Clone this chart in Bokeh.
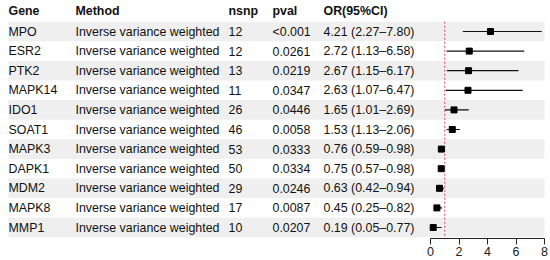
from bokeh.plotting import figure
from bokeh.models import Range1d, LinearAxis, FixedTicker, ColumnDataSource
from bokeh.core.properties import value
from bokeh.embed import file_html
from bokeh.resources import INLINE

genes = ["MPO", "ESR2", "PTK2", "MAPK14", "IDO1", "SOAT1", "MAPK3", "DAPK1", "MDM2", "MAPK8", "MMP1"]
methods = ["Inverse variance weighted"] * 11
nsnp = [12, 12, 13, 11, 26, 46, 53, 50, 29, 17, 10]
pvals = ["<0.001", "0.0261", "0.0219", "0.0347", "0.0446", "0.0058", "0.0333", "0.0334", "0.0246", "0.0087", "0.0207"]
or_val = [4.21, 2.72, 2.67, 2.63, 1.65, 1.53, 0.76, 0.75, 0.63, 0.45, 0.19]
ci_low = [2.27, 1.13, 1.15, 1.07, 1.01, 1.13, 0.59, 0.57, 0.42, 0.25, 0.05]
ci_high = [7.80, 6.58, 6.17, 6.47, 2.69, 2.06, 0.98, 0.98, 0.94, 0.82, 0.77]
headers = ["Gene", "Method", "nsnp", "pval", "OR(95%CI)"]
x_ticks = [0, 2, 4, 6, 8]
ref_line = 1

W, H = 550, 260
PX0 = 430.0   # frame px of OR = 0
PXU = 14.25   # px per OR unit
ROW0 = 31.0   # frame px of first row
ROWH = 19.6   # px per row
AXIS_Y = 238.0


def px(x):
    return (x - PX0) / PXU


def py(y):
    return 1 + (y - ROW0) / ROWH


rows = list(range(1, len(genes) + 1))
or_text = [f"{o:.2f} ({l:.2f}\u2013{h:.2f})" for o, l, h in zip(or_val, ci_low, ci_high)]

p = figure(width=W, height=H, output_backend="svg", toolbar_location=None,
           x_axis_type=None, y_axis_type=None,
           x_range=Range1d(px(0), px(W)), y_range=Range1d(py(AXIS_Y), py(0)),
           min_border_left=0, min_border_right=0, min_border_top=0,
           min_border_bottom=int(H - AXIS_Y))
p.outline_line_color = None
p.xgrid.visible = False
p.ygrid.visible = False
p.background_fill_color = "white"
p.border_fill_color = "white"

# alternating bands
band_rows = [r for r in rows if r % 2 == 1]
p.quad(left=px(8), right=px(544), bottom=[r + 0.5 for r in band_rows], top=[r - 0.5 for r in band_rows],
       fill_color="#EFEFEF", line_color=None)

font = value("Liberation Sans")
fs = "12.4px"
col_x = [px(8), px(75), px(228), px(272), px(323)]

p.text(x=col_x, y=[py(10)] * 5, text=headers, text_font=font, text_font_size=fs,
       text_font_style="bold", text_baseline="middle", text_align="left", text_color="#111111")

src = ColumnDataSource(dict(row=rows, gene=genes, method=methods, nsnp=[str(n) for n in nsnp],
                            pval=pvals, ortxt=or_text, orv=or_val, lo=ci_low, hi=ci_high))
for cx, col in zip(col_x, ["gene", "method", "nsnp", "pval", "ortxt"]):
    p.text(x=cx, y="row", text=col, source=src, text_font=font, text_font_size=fs,
           text_baseline="middle", text_align="left", text_color="#111111")

# reference line
p.segment(x0=ref_line, x1=ref_line, y0=0.5, y1=py(AXIS_Y), line_color="#E0474C", line_width=1, line_dash="2 2")

# CIs and points
p.segment(x0="lo", x1="hi", y0="row", y1="row", source=src, line_color="#111111", line_width=1.2)
p.scatter(x="orv", y="row", source=src, marker="square", size=6, fill_color="#000000", line_color="#000000")

ax = LinearAxis(ticker=FixedTicker(ticks=x_ticks), bounds=(0, 8))
ax.major_tick_out = 6
ax.major_tick_in = 0
ax.minor_tick_out = 0
ax.minor_tick_in = 0
ax.major_label_standoff = 2
ax.major_label_text_font = "Liberation Sans"
ax.major_label_text_font_size = "12.5px"
ax.major_label_text_color = "#222222"
ax.axis_line_color = "#222222"
ax.major_tick_line_color = "#222222"
p.add_layout(ax, "below")

open("out.html", "w").write(file_html(p, INLINE))
